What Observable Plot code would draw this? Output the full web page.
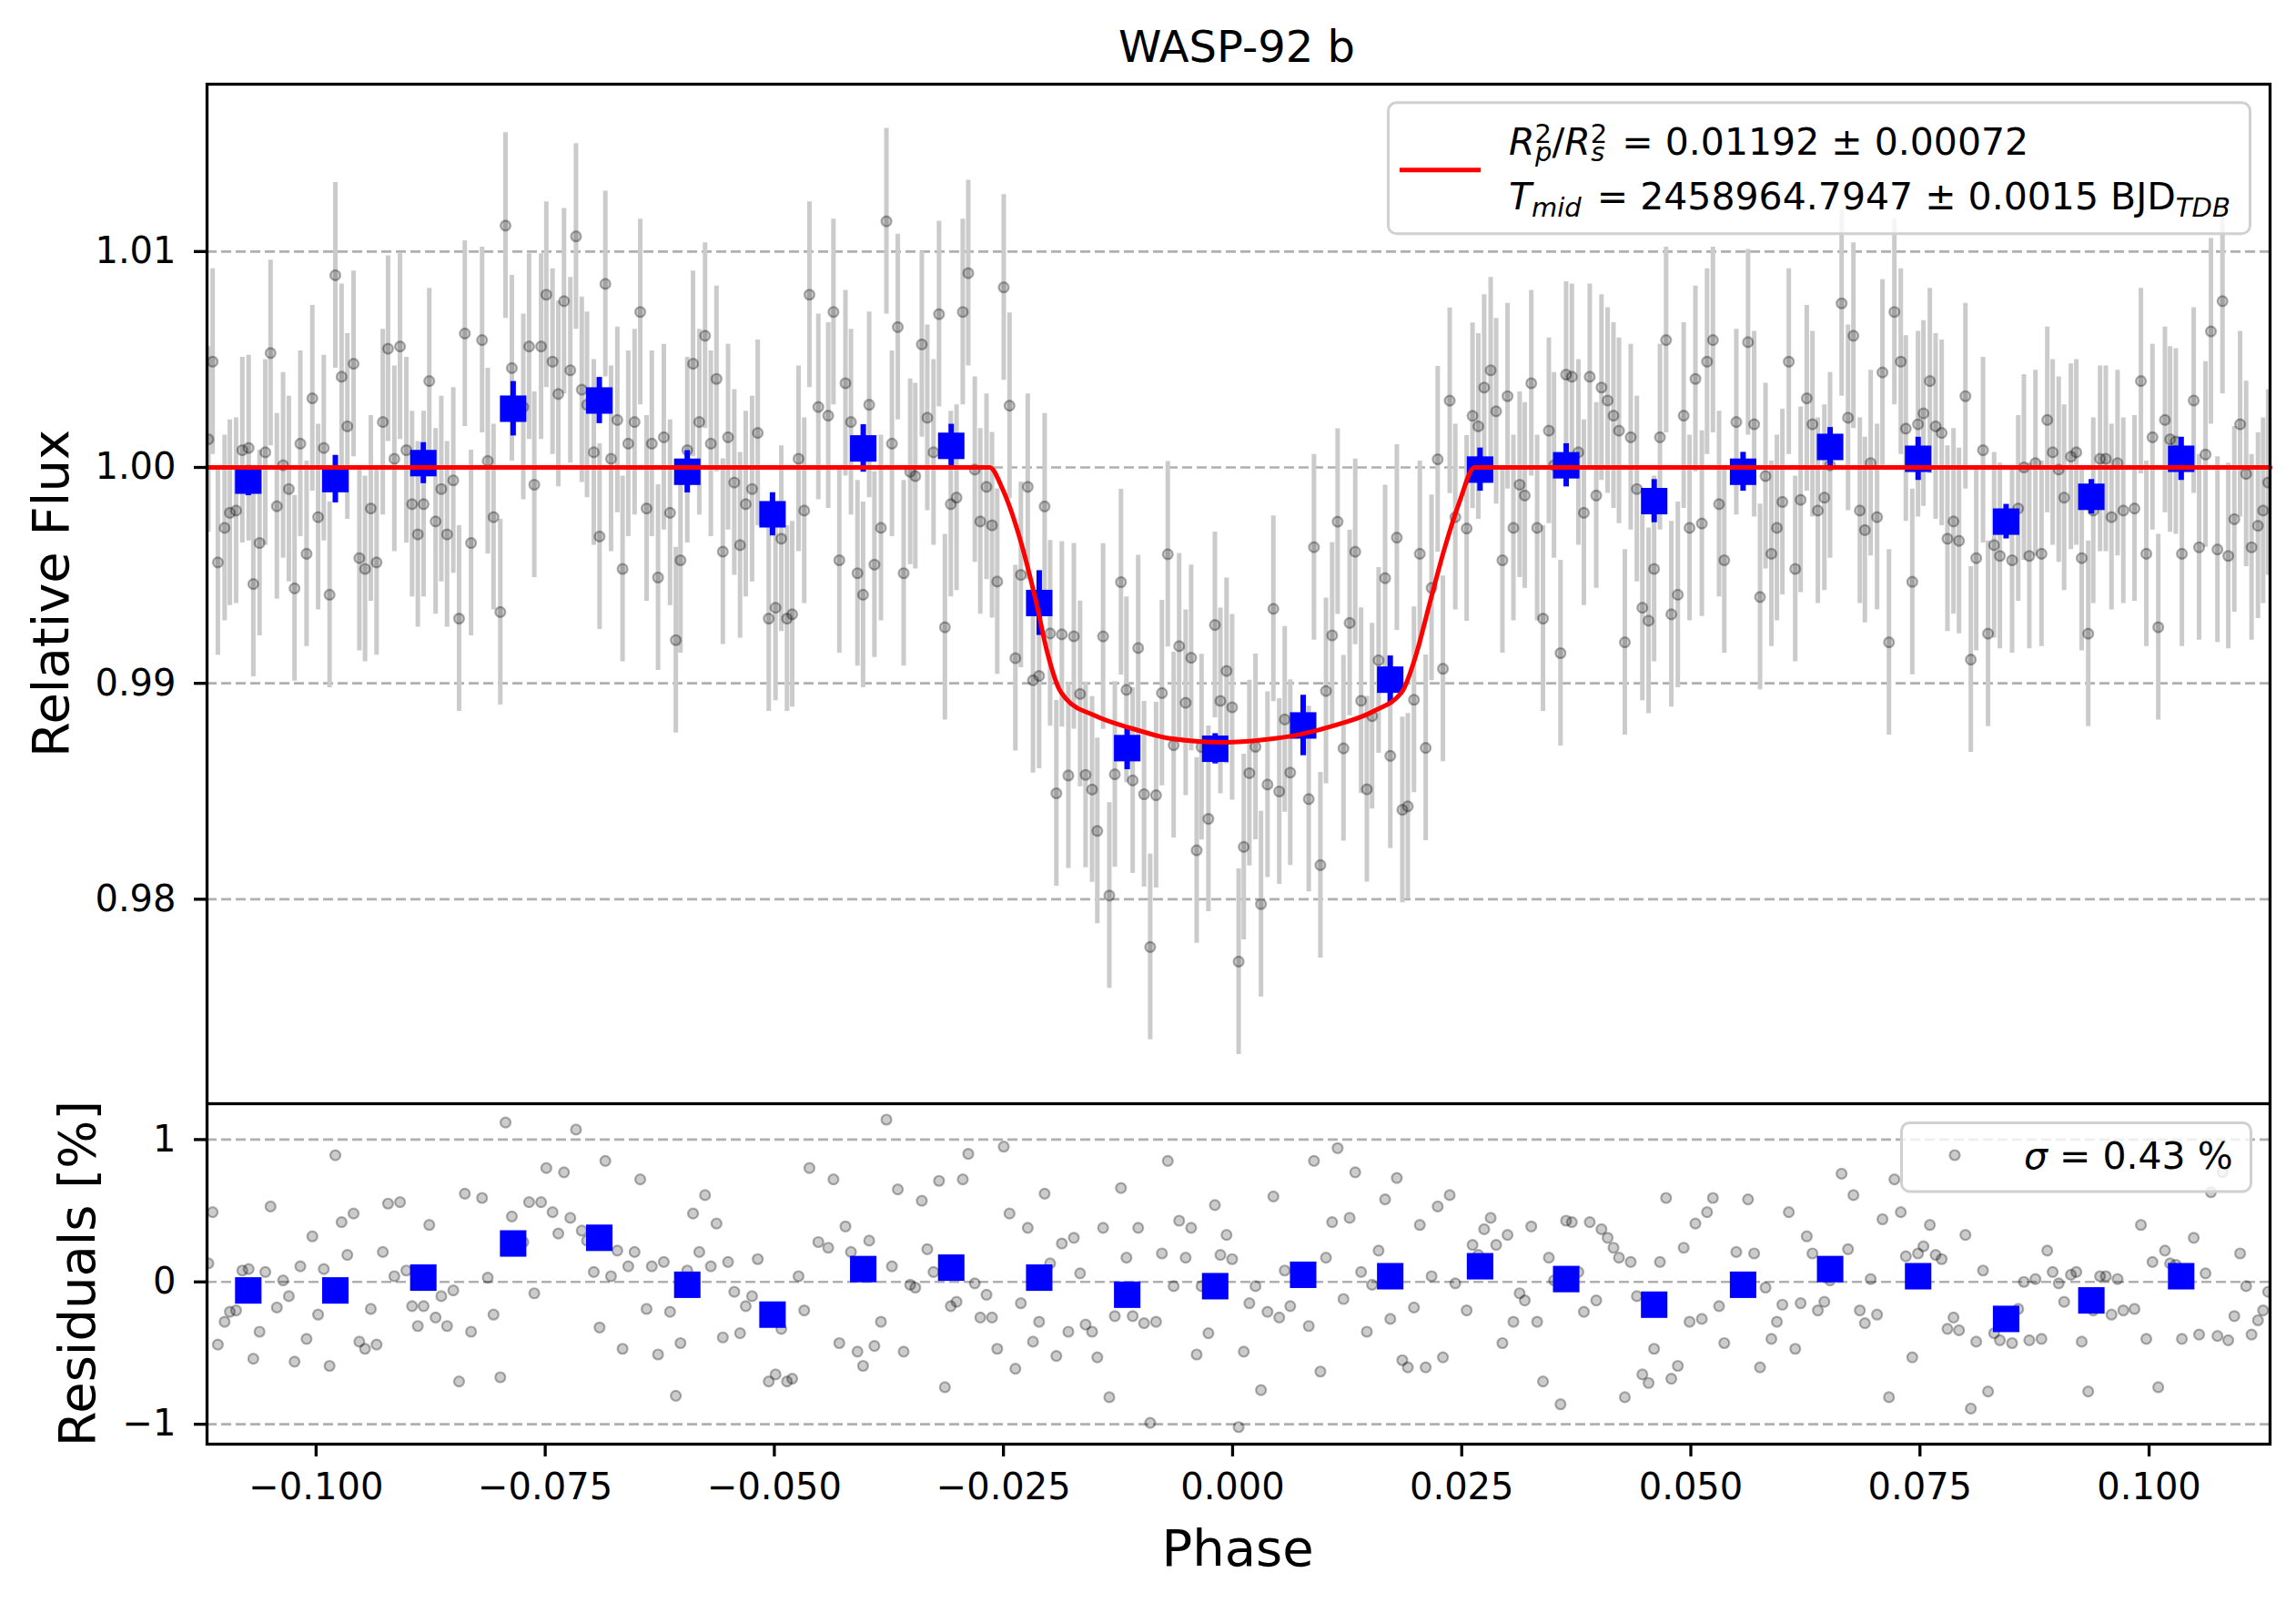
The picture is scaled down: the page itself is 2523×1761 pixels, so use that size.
<!DOCTYPE html>
<html>
<head>
<meta charset="utf-8">
<script src="https://cdn.jsdelivr.net/npm/d3@7"></script>
<script src="https://cdn.jsdelivr.net/npm/@observablehq/plot@0.6"></script>
<style>
  body { margin: 0; background: white; }
  #chart { width: 2523px; height: 1761px; position: relative; background: white; }
  #chart svg { display: block; }
</style>
</head>
<body>
<div id="chart"></div>
<script>
// ---------------- data ----------------
const title = "WASP-92 b";
const xDomain = [-0.1119, 0.1132];
const xTicks = [-0.1, -0.075, -0.05, -0.025, 0, 0.025, 0.05, 0.075, 0.1];
const fluxTicks = [0.98, 0.99, 1.00, 1.01];
const residTicks = [-1, 0, 1];

// individual observations: phase and residual in %
const phase = [-0.11175,-0.11129,-0.11072,-0.10998,-0.10941,-0.10873,-0.10805,-0.10736,-0.10685,-0.10617,-0.10554,-0.10497,-0.10428,-0.10360,-0.10297,-0.10235,-0.10172,-0.10104,-0.10041,-0.09978,-0.09916,-0.09853,-0.09790,-0.09722,-0.09659,-0.09591,-0.09528,-0.09466,-0.09403,-0.09340,-0.09272,-0.09215,-0.09146,-0.09084,-0.09015,-0.08953,-0.08890,-0.08827,-0.08765,-0.08696,-0.08634,-0.08571,-0.08503,-0.08440,-0.08377,-0.08309,-0.08189,-0.08127,-0.08064,-0.07990,-0.07933,-0.07864,-0.07739,-0.07676,-0.07619,-0.07545,-0.07488,-0.07420,-0.07357,-0.07295,-0.07226,-0.07164,-0.07101,-0.07044,-0.06970,-0.06907,-0.06844,-0.06782,-0.06713,-0.06656,-0.06594,-0.06525,-0.06463,-0.06394,-0.06337,-0.06269,-0.06206,-0.06138,-0.06075,-0.06024,-0.05950,-0.05887,-0.05819,-0.05756,-0.05693,-0.05631,-0.05562,-0.05505,-0.05437,-0.05374,-0.05312,-0.05243,-0.05181,-0.05061,-0.04987,-0.04924,-0.04862,-0.04805,-0.04736,-0.04674,-0.04617,-0.04520,
-0.04412,-0.04355,-0.04291,-0.04224,-0.04164,-0.04093,-0.04032,-0.03965,-0.03908,-0.03837,-0.03777,-0.03717,-0.03653,-0.03589,-0.03518,-0.03462,-0.03391,-0.03331,-0.03263,-0.03203,-0.03139,-0.03075,-0.03012,-0.02944,-0.02884,-0.02813,-0.02753,-0.02685,-0.02625,-0.02568,-0.02497,-0.02434,-0.02370,-0.02310,-0.02235,-0.02178,-0.02111,-0.02051,-0.01991,-0.01923,-0.01863,-0.01792,-0.01732,-0.01664,-0.01604,-0.01533,-0.01476,-0.01413,-0.01345,-0.01285,-0.01218,-0.01158,-0.01090,-0.01030,-0.00966,-0.00899,-0.00835,-0.00771,-0.00707,-0.00643,-0.00583,-0.00512,-0.00452,-0.00392,-0.00339,-0.00264,-0.00193,-0.00133,-0.00066,-0.00005,0.00066,0.00122,0.00183,0.00250,0.00310,0.00381,0.00445,0.00509,0.00569,0.00629,
0.00831,0.00888,0.00958,0.01019,0.01086,0.01146,0.01210,0.01277,0.01338,0.01402,0.01465,0.01522,0.01593,0.01664,0.01721,0.01792,0.01852,0.01912,0.01979,0.02043,0.02107,0.02171,0.02238,0.02295,0.02369,0.02430,0.02554,0.02618,0.02681,0.02745,0.02816,0.02876,0.02944,0.03000,0.03064,0.03132,0.03188,0.03259,0.03323,0.03387,0.03451,0.03507,0.03578,0.03639,0.03702,0.03773,0.03833,0.03897,0.03968,0.04025,0.04092,0.04156,0.04216,0.04280,0.04344,0.04411,0.04471,0.04539,0.04599,0.04663,0.04730,0.04787,0.04858,0.04922,0.04986,0.05050,0.05120,0.05177,0.05241,0.05308,0.05365,0.05496,0.05624,0.05691,0.05755,0.05815,0.05879,0.05939,0.05999,
0.06069,0.06139,0.06198,0.06265,0.06327,0.06386,0.06457,0.06519,0.06645,0.06715,0.06774,0.06844,0.06899,0.06962,0.07032,0.07091,0.07162,0.07221,0.07291,0.07346,0.07416,0.07479,0.07538,0.07608,0.07671,0.07737,0.07800,0.07866,0.07926,0.07996,0.08055,0.08114,0.08188,0.08243,0.08309,0.08372,0.08505,0.08572,0.08634,0.08693,0.08760,0.08826,0.08889,0.08948,0.09014,0.09073,0.09147,0.09206,0.09265,0.09336,0.09391,0.09465,0.09528,0.09590,0.09656,0.09719,0.09841,0.09911,0.09970,0.10037,0.10100,0.10173,0.10229,0.10292,0.10358,0.10487,0.10546,0.10616,0.10675,0.10746,0.10801,0.10864,0.10930,0.10993,0.11059,0.11118,0.11188,0.11244,0.11299];

const resid = [0.13,0.49,-0.44,-0.28,-0.21,-0.20,0.08,0.09,-0.54,-0.35,0.07,0.53,-0.18,0.01,-0.10,-0.56,0.11,-0.40,0.32,-0.23,0.09,-0.59,0.89,0.42,0.19,0.48,-0.42,-0.47,-0.19,-0.44,0.21,0.55,0.04,0.56,0.08,-0.17,-0.31,-0.17,0.40,-0.25,-0.10,-0.31,-0.06,-0.70,0.62,-0.35,0.59,0.03,-0.23,-0.67,1.12,0.46,0.28,0.56,-0.08,0.56,0.80,0.49,0.34,0.77,0.45,1.07,0.36,0.29,0.07,-0.32,0.85,0.04,0.22,-0.47,0.11,0.21,0.72,-0.19,0.11,-0.51,0.14,-0.21,-0.80,-0.43,0.08,0.48,0.21,0.61,0.11,0.41,-0.39,0.14,-0.07,-0.36,-0.17,-0.10,0.16,-0.70,-0.65,-0.33,-0.70,-0.68,0.04,-0.20,0.80,0.28,
0.24,0.72,-0.43,0.39,0.21,-0.49,-0.59,0.29,-0.45,-0.28,1.14,0.11,0.65,-0.49,-0.02,-0.04,0.57,0.23,0.07,0.71,-0.74,-0.17,-0.14,0.72,0.90,-0.01,-0.25,-0.09,-0.25,-0.47,0.95,0.48,-0.61,-0.15,0.38,-0.42,-0.28,0.62,0.13,-0.52,0.27,-0.35,0.31,0.06,-0.30,-0.35,-0.53,0.38,-0.81,-0.24,0.66,0.17,-0.24,0.38,-0.29,-0.99,-0.28,0.20,0.85,-0.03,0.43,0.17,0.38,-0.51,-0.03,-0.36,0.54,0.19,0.33,0.16,-1.02,-0.49,-0.15,-0.03,-0.76,-0.21,0.60,-0.25,0.08,-0.17,
-0.31,0.85,-0.63,0.17,0.42,0.94,-0.12,0.45,0.77,0.07,-0.35,-0.02,0.22,0.58,-0.26,0.73,-0.55,-0.60,-0.18,0.40,-0.60,0.04,0.53,-0.53,0.61,-0.01,-0.20,0.26,0.19,0.37,0.45,0.26,-0.43,0.33,-0.28,-0.08,-0.13,0.39,-0.28,-0.70,0.17,0.01,-0.86,0.43,0.42,0.07,-0.21,0.42,-0.13,0.37,0.31,0.24,0.17,-0.81,0.14,-0.10,-0.65,-0.71,-0.47,0.14,0.59,-0.68,-0.59,0.24,-0.28,0.41,-0.26,0.49,0.59,-0.17,-0.43,0.21,0.58,0.20,-0.60,-0.04,-0.40,-0.28,-0.16,
0.49,-0.47,-0.15,0.32,0.20,-0.20,-0.14,0.01,0.76,0.23,0.61,-0.20,-0.29,0.02,-0.23,0.44,-0.81,0.72,0.49,0.18,-0.53,0.20,0.25,0.40,0.19,0.16,-0.33,-0.25,-0.34,0.33,-0.89,-0.42,0.08,-0.77,-0.36,-0.41,-0.43,-0.19,0.00,-0.41,0.02,-0.40,0.22,0.07,-0.01,-0.14,0.05,0.07,-0.42,-0.77,-0.20,0.04,0.04,-0.23,0.02,-0.20,-0.19,0.40,-0.40,0.14,-0.74,0.22,0.13,0.12,-0.40,0.31,-0.37,0.06,0.63,-0.38,0.77,-0.41,-0.24,0.20,-0.03,-0.37,-0.27,-0.20,-0.07];

const fluxErr = 0.0043;   // per-point flux uncertainty (sigma = 0.43 %)

// binned points: phase, flux (top panel), residual in % (bottom panel), flux error
const binPhase = [-0.1074,-0.0979,-0.0883,-0.0785,-0.0691,-0.0595,-0.0502,-0.0403,-0.0307,-0.0211,-0.0115,-0.0019,0.0077,0.0172,0.0270,0.0364,0.0460,0.0557,0.0652,0.0748,0.0844,0.0937,0.1035];
const binFlux = [0.99939,0.99946,1.0002,1.00272,1.0031,0.9998,0.99783,1.00088,1.0010,0.99372,0.9870,0.98697,0.98805,0.99017,0.9999,1.0001,0.99844,0.9998,1.00095,1.0004,0.99749,0.99864,1.0004];
const binResid = [-0.06,-0.06,0.03,0.27,0.31,-0.02,-0.23,0.09,0.10,0.03,-0.09,-0.03,0.05,0.04,0.11,0.02,-0.16,-0.02,0.09,0.04,-0.26,-0.13,0.04];
const binErr = [0.0007,0.0011,0.00095,0.00126,0.00107,0.00098,0.0010,0.0011,0.0010,0.0015,0.0010,0.0007,0.0014,0.0011,0.0010,0.0010,0.0010,0.0009,0.0009,0.0010,0.0008,0.0008,0.0010];

// transit model (red line)
const modelPhase = [-0.1119,-0.0265,-0.0251,-0.0230,-0.0214,-0.0202,-0.0190,-0.0182,-0.0150,-0.0109,-0.0068,-0.0008,0.0033,0.0073,0.0114,0.0154,0.0185,0.0199,0.0215,0.0231,0.0248,0.0264,0.1132];
const modelFlux = [1.0,1.0,0.9990,0.9964,0.9937,0.9914,0.9898,0.9893,0.9885,0.9879,0.98745,0.98727,0.98738,0.98763,0.98808,0.98871,0.98962,0.99116,0.99369,0.99621,0.99846,1.0,1.0];

const legendText1 = " = 0.01192 ± 0.00072";
const legendText2 = " = 2458964.7947 ± 0.0015 BJD";
const sigmaText = " = 0.43 %";

// ---------------- derived tables ----------------
// flux of an observation = model at its phase + residual (residual = data − model)
function modelAt(p) {
  for (let i = 0; i < modelPhase.length - 1; i++) {
    if (p <= modelPhase[i + 1]) {
      const t = (p - modelPhase[i]) / (modelPhase[i + 1] - modelPhase[i]);
      return modelFlux[i] + t * (modelFlux[i + 1] - modelFlux[i]);
    }
  }
  return modelFlux[modelFlux.length - 1];
}
const obs = phase.map((p, i) => ({phase: p, resid: resid[i], flux: modelAt(p) + resid[i] / 100}));
const bins = binPhase.map((p, i) => ({phase: p, resid: binResid[i], flux: binFlux[i], err: binErr[i]}));
const model = modelPhase.map((p, i) => ({phase: p, flux: modelFlux[i]}));

const W = 2523, ML = 227, MR = 29;
const font = "DejaVu Sans";
const gridStyle = {stroke: "#b0b0b0", strokeOpacity: 1, strokeWidth: 2.7, strokeDasharray: "11,5"};
const dotStyle = {r: 5.5, fill: "black", fillOpacity: 0.2, stroke: "black", strokeOpacity: 0.3, strokeWidth: 2.2};

// ---------------- top panel ----------------
const topSvg = Plot.plot({
  width: W, height: 1212,
  marginLeft: ML, marginRight: MR, marginTop: 92, marginBottom: 0,
  style: {fontFamily: font, fontSize: "40px", background: "white", color: "black"},
  x: {domain: xDomain, axis: null},
  y: {domain: [0.97053, 1.01775], axis: null},
  marks: [
    Plot.gridY(fluxTicks, gridStyle),
    Plot.ruleX(obs, {x: "phase", y1: d => d.flux - fluxErr, y2: d => d.flux + fluxErr, stroke: "#cbcbcb", strokeWidth: 5, clip: true}),
    Plot.dot(obs, {x: "phase", y: "flux", ...dotStyle, clip: true}),
    Plot.ruleX(bins, {x: "phase", y1: d => d.flux - d.err, y2: d => d.flux + d.err, stroke: "#0000ff", strokeWidth: 6}),
    Plot.dot(bins, {x: "phase", y: "flux", symbol: "square", r: 16.4, fill: "#0000ff", stroke: "none"}),
    Plot.line(model, {x: "phase", y: "flux", stroke: "#ff0000", strokeWidth: 5, curve: "monotone-x"}),
    Plot.axisY(fluxTicks, {tickSize: 14, tickPadding: 20, tickFormat: d3.format(".2f"), fontSize: 40, strokeWidth: 3.3, label: null}),
    Plot.frame({stroke: "black", strokeWidth: 3.3})
  ]
});

// ---------------- residual panel ----------------
const bottomSvg = Plot.plot({
  width: W, height: 549,
  marginLeft: ML, marginRight: MR, marginTop: 0, marginBottom: 175,
  style: {fontFamily: font, fontSize: "40px", background: "white", color: "black"},
  x: {domain: xDomain, axis: null},
  y: {domain: [-1.14, 1.252], axis: null},
  marks: [
    Plot.gridY(residTicks, gridStyle),
    Plot.dot(obs, {x: "phase", y: "resid", ...dotStyle, clip: true}),
    Plot.dot(bins, {x: "phase", y: "resid", symbol: "square", r: 16.4, fill: "#0000ff", stroke: "none"}),
    Plot.axisY(residTicks, {tickSize: 14, tickPadding: 20, tickFormat: d3.format("d"), fontSize: 40, strokeWidth: 3.3, label: null}),
    Plot.axisX(xTicks, {tickSize: 14, tickPadding: 18, tickFormat: d3.format(".3f"), fontSize: 40, strokeWidth: 3.3, label: null}),
    Plot.frame({stroke: "black", strokeWidth: 3.3})
  ]
});

const chart = document.getElementById("chart");
chart.appendChild(topSvg);
chart.appendChild(bottomSvg);

// ---------------- text, labels and legends ----------------
const tSel = d3.select(topSvg);
tSel.append("text").attr("x", 1359).attr("y", 68).attr("text-anchor", "middle")
  .attr("font-size", 48).attr("fill", "black").text(title);
tSel.append("text").attr("transform", "translate(75,652) rotate(-90)").attr("text-anchor", "middle")
  .attr("font-size", 56).attr("fill", "black").text("Relative Flux");

const lg = tSel.append("g").attr("text-anchor", "start");
lg.append("rect").attr("x", 1525.5).attr("y", 112.7).attr("width", 947).attr("height", 144).attr("rx", 9)
  .attr("fill", "white").attr("fill-opacity", 0.8).attr("stroke", "#d0d0d0").attr("stroke-width", 3);
lg.append("line").attr("x1", 1538).attr("x2", 1627).attr("y1", 186.7).attr("y2", 186.7)
  .attr("stroke", "#ff0000").attr("stroke-width", 5);
const l1 = lg.append("text").attr("x", 1658).attr("y", 170).attr("text-anchor", "start").attr("font-size", 41).attr("fill", "black");
l1.append("tspan").attr("font-style", "italic").text("R");
l1.append("tspan").attr("font-size", 29).attr("dy", -13).text("2");
l1.append("tspan").attr("font-size", 29).attr("font-style", "italic").attr("dx", -18).attr("dy", 20).text("p");
l1.append("tspan").attr("dy", -7).text("/");
l1.append("tspan").attr("font-style", "italic").text("R");
l1.append("tspan").attr("font-size", 29).attr("dy", -13).text("2");
l1.append("tspan").attr("font-size", 29).attr("font-style", "italic").attr("dx", -18).attr("dy", 20).text("s");
l1.append("tspan").attr("dy", -7).attr("dx", 6).text(legendText1);
const l2 = lg.append("text").attr("x", 1658).attr("y", 230).attr("text-anchor", "start").attr("font-size", 41).attr("fill", "black");
l2.append("tspan").attr("font-style", "italic").text("T");
l2.append("tspan").attr("font-size", 29).attr("font-style", "italic").attr("dy", 8).text("mid");
l2.append("tspan").attr("dy", -8).attr("dx", 4).text(legendText2);
l2.append("tspan").attr("font-size", 29).attr("font-style", "italic").attr("dy", 8).text("TDB");

const bSel = d3.select(bottomSvg);
bSel.append("text").attr("transform", "translate(104,187) rotate(-90)").attr("text-anchor", "middle")
  .attr("font-size", 56).attr("fill", "black").text("Residuals [%]");
bSel.append("text").attr("x", 1360).attr("y", 508).attr("text-anchor", "middle")
  .attr("font-size", 56).attr("fill", "black").text("Phase");
const lg2 = bSel.append("g").attr("text-anchor", "start");
lg2.append("rect").attr("x", 2089.5).attr("y", 21.4).attr("width", 384).attr("height", 75.5).attr("rx", 9)
  .attr("fill", "white").attr("fill-opacity", 0.8).attr("stroke", "#d0d0d0").attr("stroke-width", 3);
lg2.append("circle").attr("cx", 2148).attr("cy", 57).attr("r", 5.5)
  .attr("fill", "black").attr("fill-opacity", 0.2).attr("stroke", "black").attr("stroke-opacity", 0.3).attr("stroke-width", 2.2);
const s2 = lg2.append("text").attr("x", 2224).attr("y", 71.7).attr("text-anchor", "start").attr("font-size", 41).attr("fill", "black");
s2.append("tspan").attr("font-style", "italic").text("σ");
s2.append("tspan").text(sigmaText);
</script>
</body>
</html>
